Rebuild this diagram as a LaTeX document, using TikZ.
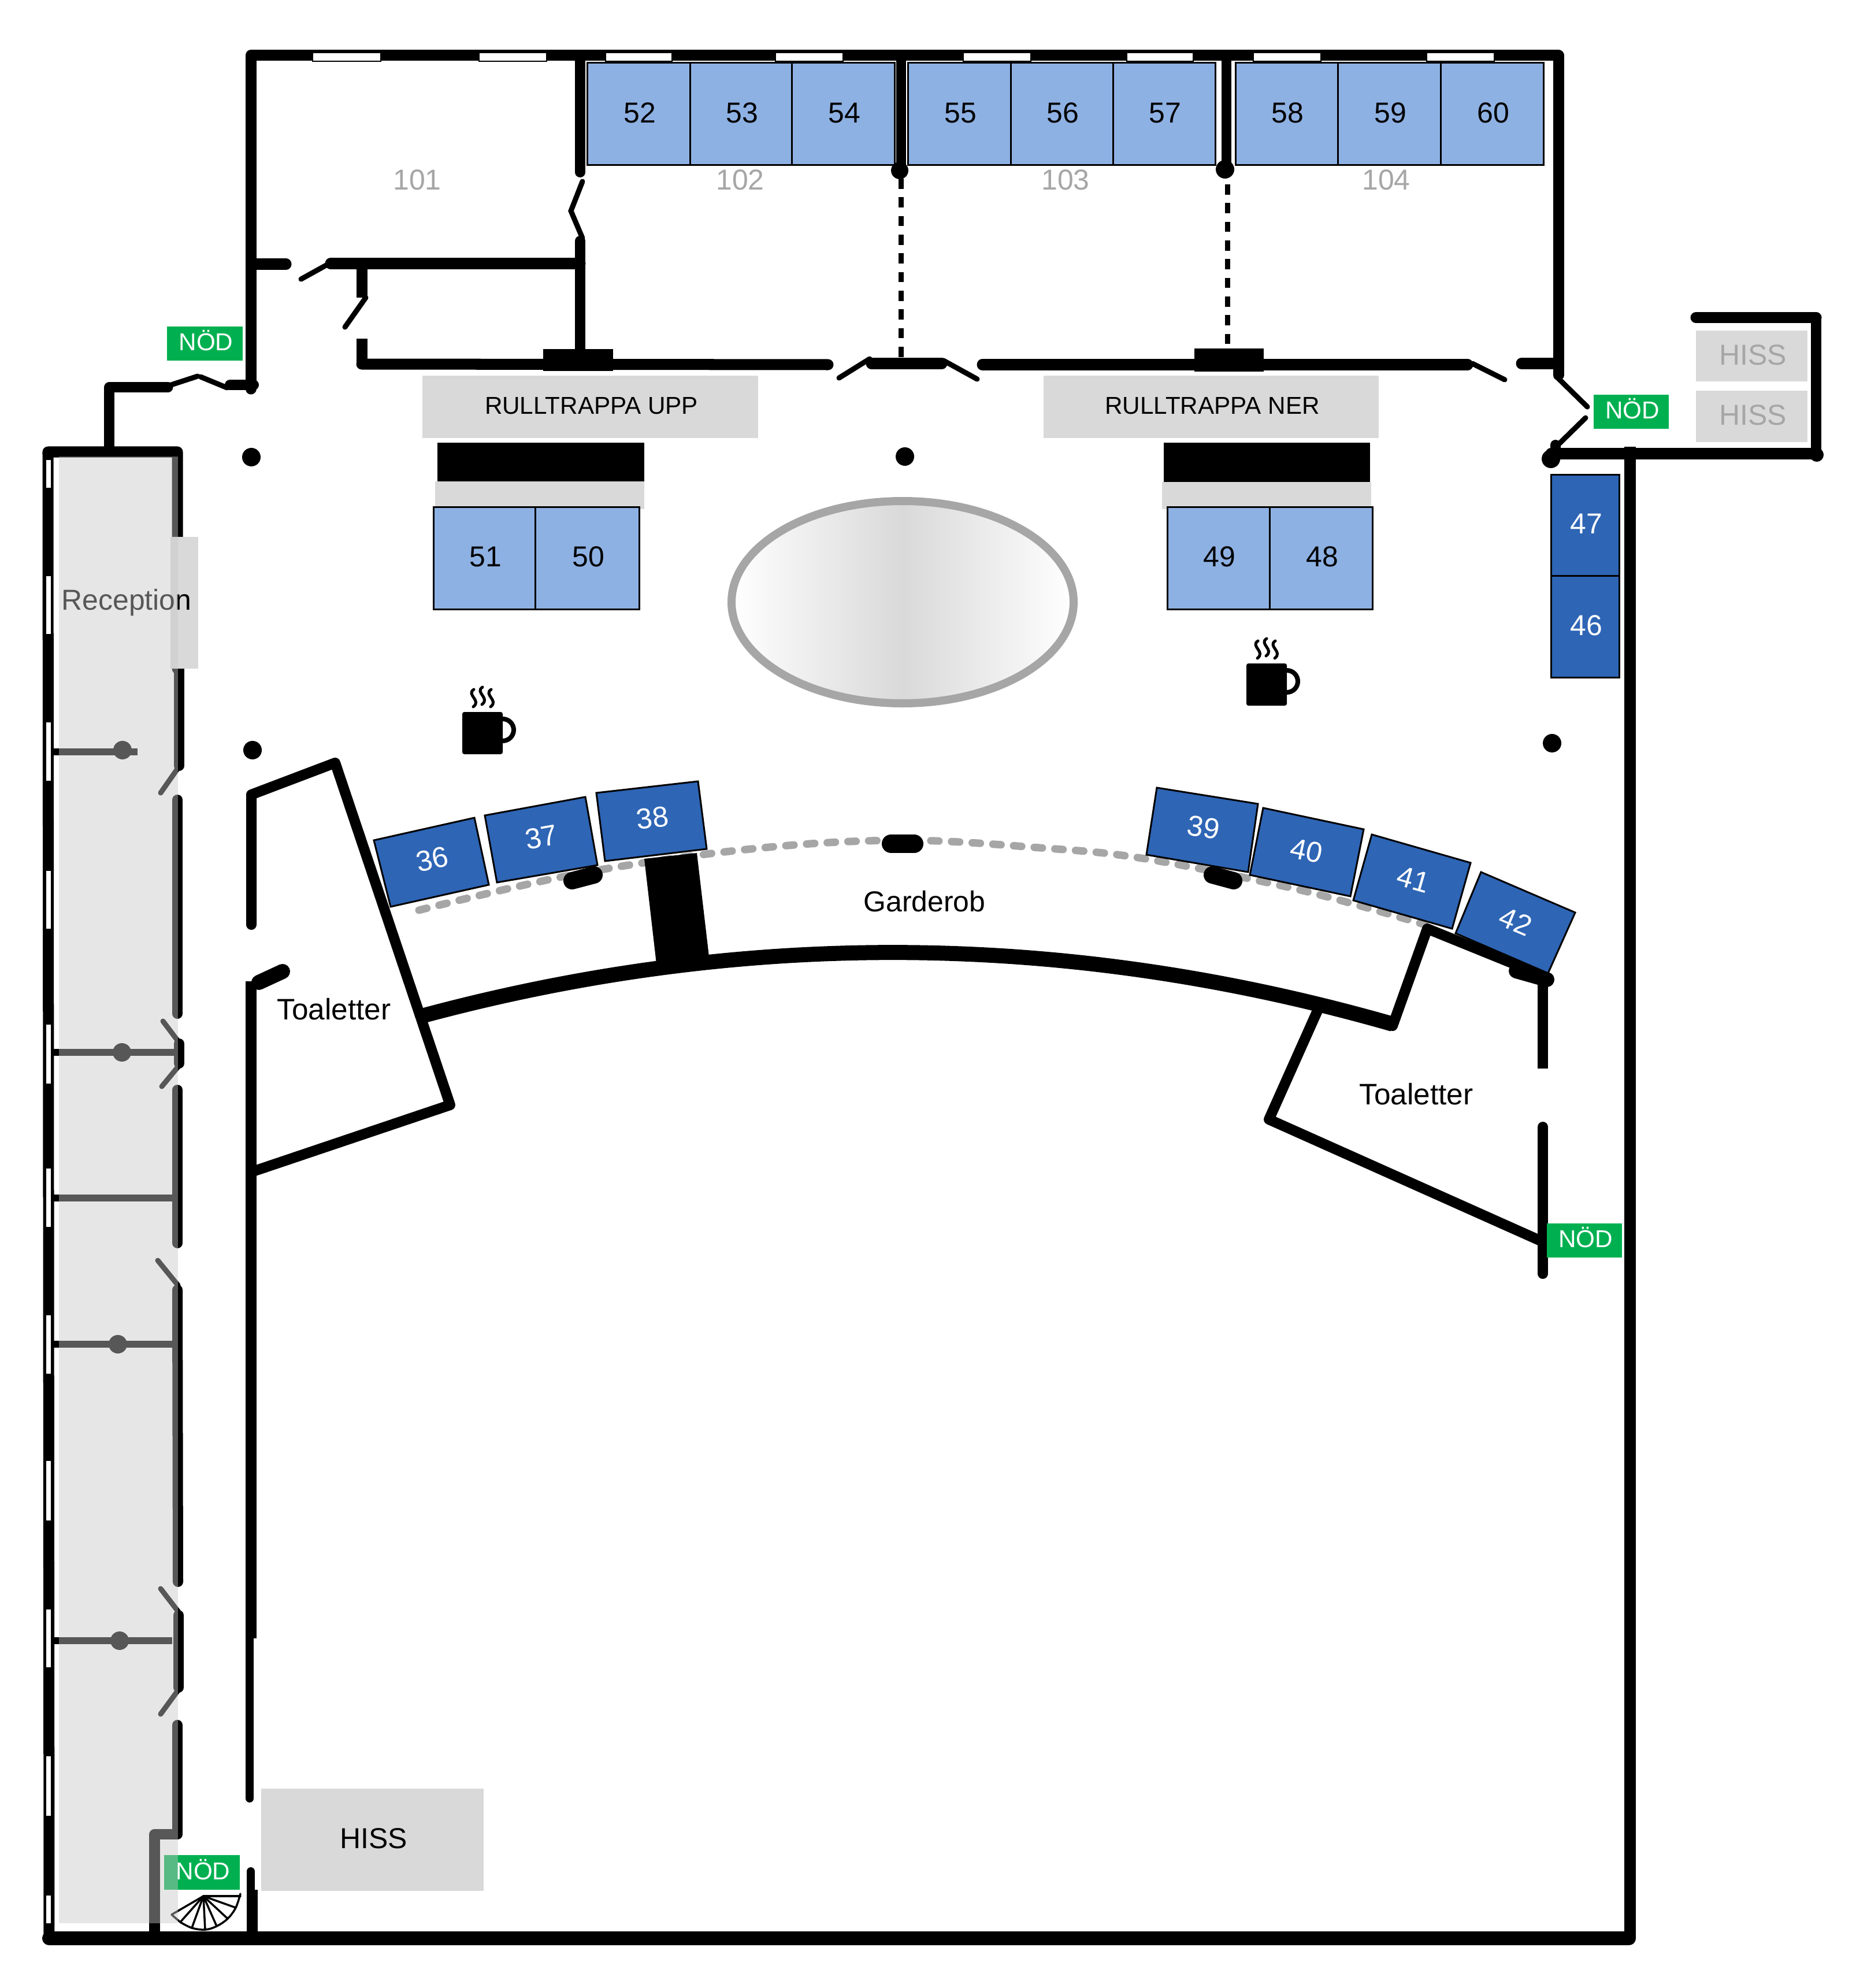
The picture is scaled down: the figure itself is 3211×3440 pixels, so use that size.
\documentclass[tikz,border=0pt]{standalone}
\usepackage{fontspec}
\setmainfont{Liberation Sans}
\definecolor{lightb}{HTML}{8EB1E3}
\definecolor{darkb}{HTML}{2E65B5}
\definecolor{boxg}{HTML}{D9D9D9}
\definecolor{midg}{HTML}{A6A6A6}
\definecolor{nodg}{HTML}{00B050}
\tikzset{
  lw/.style={line width=#1*0.2845pt},
  wall/.style={lw=#1,draw=black,line cap=round,line join=round},
  wall/.default=17,
  buttwall/.style={lw=#1,draw=black,line cap=butt,line join=miter},
  doorline/.style={lw=9,draw=black,line cap=round},
  txt/.style={font=\fontsize{14.2}{16}\selectfont,inner sep=0pt,text=black,xshift=0.02cm,yshift=0.02cm},
  small/.style={txt,font=\fontsize{12}{14}\selectfont},
  wtxt/.style={txt,text=white},
  nodtxt/.style={small,text=white,yshift=0.03cm},
  gtxt/.style={txt,text=midg},
  booth/.style={draw=black,lw=3,fill=lightb},
  dbooth/.style={draw=black,lw=3,fill=darkb,line join=miter},
  win/.style={fill=white,draw=black,lw=1.5},
  nodbox/.style={fill=nodg,draw=none},
  grayb/.style={fill=boxg,draw=none},
  dot/.style={fill=black,draw=none},
  stair/.style={lw=3.5,draw=black,line join=round,line cap=round},
  bdash/.style={black,lw=9,dash pattern=on 5pt off 4.2pt},
}
\newcommand{\lightbooth}[6]{\path[booth] (#2,#4) rectangle node[txt] (#1) {#6} (#3,#5);}
\newcommand{\cupicon}[2]{%
 \begin{scope}[shift={(#1,#2)}]
  \draw[black,lw=8] (870,1263) circle [radius=19];
  \fill[black,rounded corners=1pt] (800,1232) rectangle (870,1305);
  \foreach \sx/\sy in {820/1193,835/1189,850/1193}{
   \draw[black,lw=5,line cap=round] (\sx,\sy) .. controls (\sx-14,\sy+9) and (\sx+14,\sy+19) .. (\sx-1,\sy+30);
  }
 \end{scope}}
\begin{document}
\begin{tikzpicture}[x=0.01cm,y=-0.01cm]
\useasboundingbox (0,0) rectangle (3211,3440);
\fill[white] (0,0) rectangle (3211,3440);

% dashed grey garderob line
\draw[midg,lw=13,line cap=round,dash pattern=on 4pt off 6.2pt]
  plot[smooth,tension=0.6] coordinates {(725,1575) (1000,1512) (1300,1469) (1559,1454) (1800,1467) (1982,1486) (2250,1540) (2466,1600)};

% outer and top walls
\draw[wall=19] (2697,649) -- (2697,96) -- (434,96) -- (434,673);
\draw[wall=19] (85,3352) -- (83,782) -- (307,782) -- (307,1157);
\draw[wall=18] (310,1157) -- (310,1325);
\draw[wall=24] (85,3354) -- (2819,3354);
\draw[buttwall=20] (2821,773) -- (2821,3354);
\foreach \a/\b in {541/659,829/946,1048/1163,1342/1459,1667/1784,1950/2065,2169/2286,2469/2586}{
  \path[win] (\a,91) rectangle (\b,106);
}
\foreach \a/\b in {795/845,996/1098,1249/1352,1506/1608,1772/1876,2021/2124,2275/2378,2527/2632,2784/2886,3038/3143,3279/3329}{
  \path[win] (79,\a) rectangle (89,\b);
}

% top-left entrance
\draw[wall=17] (189,775) -- (189,670) -- (291,670);
\draw[doorline] (296,666) -- (342,651);
\draw[doorline] (347,652) -- (393,671);
\draw[wall=18] (398,666) -- (439,666);

% room dividers along the top
\draw[wall=18] (1004,96) -- (1004,298);
\draw[doorline] (1008,314) -- (988,365) -- (1008,412);
\draw[wall=18] (1004,417) -- (1004,610);
\draw[wall=19] (572,456) -- (1004,456);
\draw[wall=19] (445,457) -- (495,457);
\draw[doorline] (521,483) -- (568,457);
\draw[buttwall=19] (626,466) -- (626,515);
\draw[doorline] (633,515) -- (597,566);
\draw[buttwall=19] (626,586) -- (626,630);
\draw[wall=19] (626,630) -- (1433,631);
\fill[black] (940,604) rectangle (1061,642);
\draw[doorline] (1452,654) -- (1505,621);
\draw[wall=19] (1508,629) -- (1630,629);
\draw[doorline] (1633,624) -- (1691,656);
\draw[wall=19] (1700,631) -- (2540,631);
\fill[black] (2067,603) rectangle (2187,643);
\draw[doorline] (2548,629) -- (2604,657);
\draw[wall=19] (2633,629) -- (2697,629);

\draw[wall=17] (1559,96) -- (1559,288);
\fill[black] (1557,295) circle [radius=15];
\draw[bdash] (1559,309) -- (1559,622);
\draw[wall=17] (2122,96) -- (2122,288);
\fill[black] (2120,293) circle [radius=16];
\draw[bdash] (2124,319) -- (2124,605);

% right entrance and lift room
\draw[doorline] (2697,655) -- (2747,704);
\draw[doorline] (2744,723) -- (2695,771);
\fill[black] (2684,794) circle [radius=16];
\draw[wall=19] (2684,785) -- (3144,785);
\draw[wall=18] (2692,790) -- (2692,770);
\draw[wall=19] (2935,549.5) -- (3143,549.5);
\draw[wall=18] (3143,549.5) -- (3143,785);
\fill[black] (3144,787) circle [radius=12];

% reception inner wall
\draw[buttwall=18] (310,1157) -- (310,1325);
\draw[doorline] (308,1329) -- (278,1372);
\draw[wall=18] (307,1384) -- (307,1754);
\draw[doorline] (282,1767) -- (313,1808);
\draw[wall=18] (310,1806) -- (310,1840);
\draw[doorline] (313,1840) -- (280,1880);
\draw[wall=18] (307,1886) -- (307,2151);
\draw[doorline] (273,2181) -- (308,2224);
\draw[wall=18] (307,2232) -- (308,2737);
\draw[doorline] (278,2749) -- (308,2788);
\draw[wall=18] (309,2795) -- (309,2920);
\draw[doorline] (308,2925) -- (278,2966);
\draw[wall=18] (307,2985) -- (307,3174) -- (267.5,3174) -- (267.5,3354);

% reception partitions
\draw[buttwall=12] (93,1301) -- (238,1301);
\fill[black] (212,1298) circle [radius=16];
\draw[buttwall=12] (91,1821) -- (307,1821);
\fill[black] (211,1821) circle [radius=16];
\draw[buttwall=12] (91,2073) -- (303,2073);
\draw[buttwall=12] (93,2326) -- (298,2326);
\fill[black] (204,2326) circle [radius=16];
\draw[buttwall=12] (93,2839) -- (298,2839);
\fill[black] (207,2839) circle [radius=16];

% left inner wall and left toilets
\draw[wall=18] (435,1600) -- (435,1375) -- (580,1320) -- (779,1912) -- (435,2028);
\draw[wall=26] (448,1700) -- (489,1681);
\draw[buttwall=19] (434.5,1698) -- (434.5,2835);
\draw[wall=14] (432,2835) -- (432,3112);
\draw[wall=14] (434,3238) -- (434,3354);
\draw[buttwall=18] (437,3270) -- (437,3354);

% main arc
\draw[lw=26,black,line cap=butt] (734,1757) .. controls (1293,1607) and (1851,1612) .. (2410,1772);
\fill[black] (1115,1486) -- (1206,1476) -- (1227,1655) -- (1136,1668) -- cycle;

% right toilets
\draw[wall=18] (2284,1740) -- (2196,1937) -- (2666,2147);
\draw[wall=18] (2410,1775) -- (2470,1607) -- (2677,1691);
\draw[wall=26] (2624,1680) -- (2677,1695);
\draw[buttwall=18] (2670,1691) -- (2670,1849);
\draw[wall=18] (2670,1950) -- (2670,2204);

% columns
\fill[dot] (435,791) circle [radius=16];
\fill[dot] (1566,790) circle [radius=16];
\fill[dot] (437,1298) circle [radius=16];
\fill[dot] (2686,1286) circle [radius=16];

% pills
\draw[wall=30] (990,1524) -- (1028,1514);
\draw[wall=32] (1542,1460) -- (1582,1460);
\draw[wall=30] (2098,1514) -- (2135,1524);

% lifts and escalators
\path[grayb] (731,650) rectangle node[small] (rupp) {RULLTRAPPA UPP} (1312,758);
\path[grayb] (1806,650) rectangle node[small] (rner) {RULLTRAPPA NER} (2386,758);
\fill[black] (757,766) rectangle (1115,833);
\fill[boxg] (753,833) rectangle (1115,881);
\fill[black] (2014,766) rectangle (2371,834);
\fill[boxg] (2011,834) rectangle (2373,881);
\path[grayb] (2935,572) rectangle node[gtxt] (hiss1) {HISS} (3128,660);
\path[grayb] (2935,676) rectangle node[gtxt] (hiss2) {HISS} (3128,765);
\path[grayb] (452,3095) rectangle node[txt] (hiss3) {HISS} (837,3272);

% light booths
\lightbooth{n52}{1016}{1194}{109}{286}{52}
\lightbooth{n53}{1194}{1370}{109}{286}{53}
\lightbooth{n54}{1370}{1548}{109}{286}{54}
\lightbooth{n55}{1571}{1749}{109}{286}{55}
\lightbooth{n56}{1749}{1926}{109}{286}{56}
\lightbooth{n57}{1926}{2103}{109}{286}{57}
\lightbooth{n58}{2138}{2315}{109}{286}{58}
\lightbooth{n59}{2315}{2493}{109}{286}{59}
\lightbooth{n60}{2493}{2671}{109}{286}{60}
\lightbooth{n51}{750}{926}{877}{1054}{51}
\lightbooth{n50}{926}{1106}{877}{1054}{50}
\lightbooth{n49}{2020}{2197}{877}{1054}{49}
\lightbooth{n48}{2197}{2375}{877}{1054}{48}

% dark booths
\path[dbooth] (2684,821) rectangle node[wtxt] (n47) {47} (2802,996);
\path[dbooth] (2684,996) rectangle node[wtxt] (n46) {46} (2802,1172);
\draw[dbooth] (647,1454) -- (821,1415) -- (846,1531) -- (676,1569) -- cycle;
\draw[dbooth] (839,1411) -- (1013,1379) -- (1034,1497) -- (860,1527) -- cycle;
\draw[dbooth] (1032,1372) -- (1208,1352) -- (1223,1469) -- (1047,1490) -- cycle;
\draw[dbooth] (2002,1363) -- (2177,1391) -- (2160,1509) -- (1984,1479) -- cycle;
\draw[dbooth] (2186,1398) -- (2360,1435) -- (2337,1551) -- (2163,1514) -- cycle;
\draw[dbooth] (2374,1444) -- (2545,1493) -- (2513,1607) -- (2342,1558) -- cycle;
\draw[dbooth] (2563,1509) -- (2726,1579) -- (2679,1684) -- (2519,1615) -- cycle;
\node[wtxt,rotate=12] (n36) at (746,1489) {36};
\node[wtxt,rotate=10] (n37) at (935,1451) {37};
\node[wtxt,rotate=7] (n38) at (1127,1417) {38};
\node[wtxt,rotate=-9] (n39) at (2081,1434) {39};
\node[wtxt,rotate=-12] (n40) at (2259,1474) {40};
\node[wtxt,rotate=-16] (n41) at (2444,1524) {41};
\node[wtxt,rotate=-23] (n42) at (2621,1596) {42};

% oval
\draw[midg,lw=14,left color=white,right color=white,middle color=boxg] (1562,1042) ellipse [x radius=296,y radius=175];

% coffee
\cupicon{0}{0}
\cupicon{1357}{-84}

% labels
\node[gtxt] (r101) at (720,313) {101};
\node[gtxt] (r102) at (1279,313) {102};
\node[gtxt] (r103) at (1842,313) {103};
\node[gtxt] (r104) at (2397,313) {104};
\node[txt] (garderob) at (1598,1562) {Garderob};
\node[txt,font=\fontsize{14.6}{16}\selectfont] (toa1) at (576,1748) {Toaletter};
\node[txt,font=\fontsize{14.6}{16}\selectfont] (toa2) at (2449,1895) {Toaletter};

% emergency exits
\path[nodbox] (289,565) rectangle node[nodtxt] (nod1) {NÖD} (420,624);
\path[nodbox] (2758,683) rectangle node[nodtxt] (nod2) {NÖD} (2888,742);
\path[nodbox] (2677,2117) rectangle node[nodtxt] (nod3) {NÖD} (2807,2176);
\path[nodbox] (284,3210) rectangle node[nodtxt] (nod4) {NÖD} (415,3270);

% spiral stair
\coordinate (sc) at (352,3281);
\draw[stair] (sc) -- (416,3281);
\draw[stair] plot[smooth,tension=0.6] coordinates {(416,3277) (408,3301) (394,3320) (375,3333) (355,3339) (332,3336) (312,3326)};
\draw[stair] (312,3326) -- (297,3313) -- (sc);
\foreach \p/\q in {408/3301,394/3320,375/3333,355/3339,332/3336,312/3326}{
  \draw[stair] (sc) -- (\p,\q);
}

% reception
\path[grayb] (295,929) rectangle (343,1157);
\node[txt] (rec) at (217,1045) {Reception};
\fill[fill opacity=0.44,color={rgb,1:red,0.78;green,0.78;blue,0.78}] (102,790) rectangle (308,3328);
\end{tikzpicture}
\end{document}
